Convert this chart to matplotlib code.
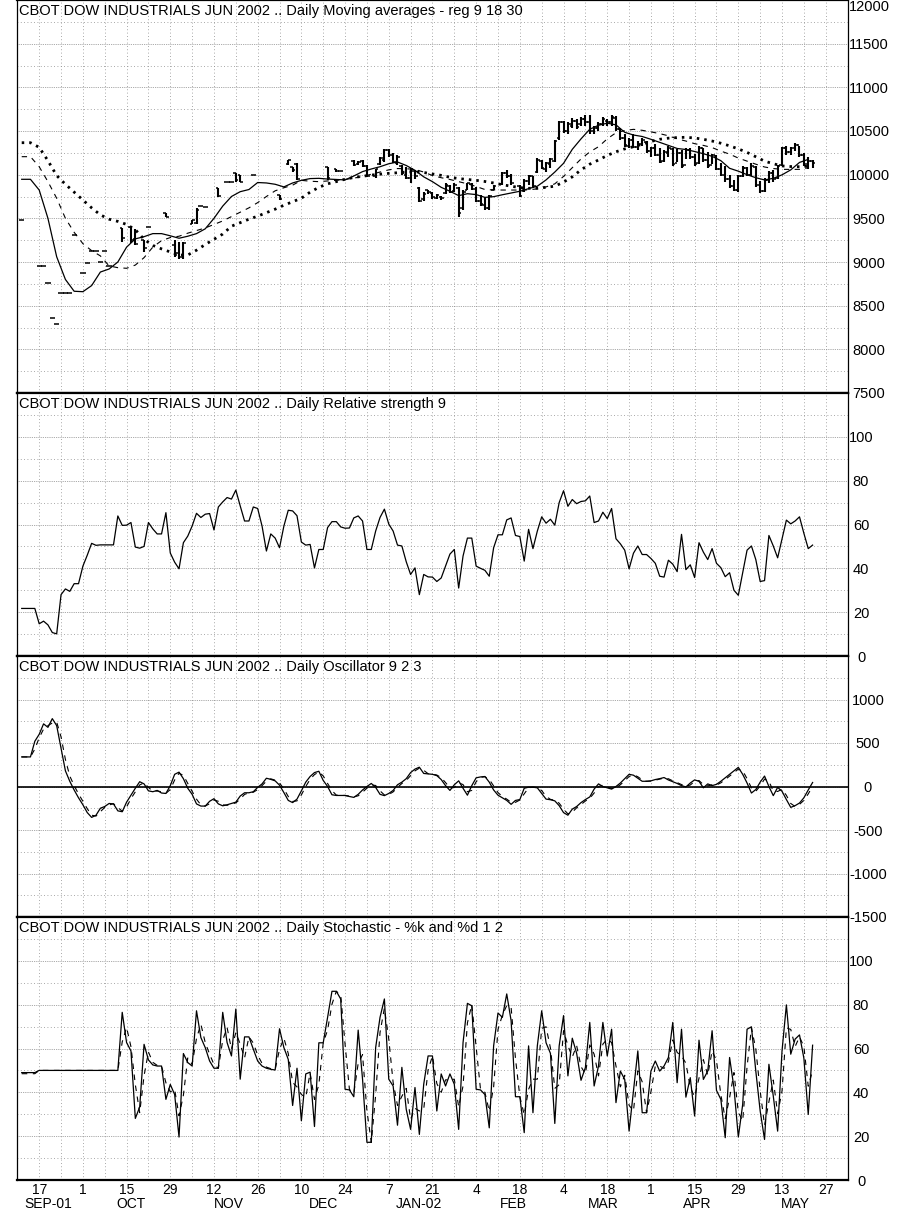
import numpy as np
import pandas as pd
import matplotlib
matplotlib.use("Agg")
import matplotlib.pyplot as plt

# ---- data (one value per trading session, session 0 = Tue 11 Sep 2001) ----
# price bars: high, low, open, close (None = no bar that day)
bar_high = [9485, None, None, None, 8955, 8955, 8756, 8362, 8290, 8650,
            8650, 8645, 9309, None, 8878, 8985, 9126, 9126, 9004, 9126,
            8958, None, None, 9390, None, 9400, 9380, None, 9250, 9405,
            None, None, None, 9560, None, 9250, 9230, 9230, None, 9480,
            9620, 9640, 9630, None, None, 9850, None, 9920, 9920, 10020,
            10000, None, None, 9996, None, None, None, None, None, 9770,
            None, 10170, 10090, 10130, None, None, None, None, None, None,
            10090, None, 10065, 10040, None, None, 10170, 10160, 10170, 10110,
            None, 10070, 10200, 10290, 10290, 10250, 10230, 10110, 10090, 10080,
            10050, 9860, 9800, 9820, 9800, 9780, 9760, 9900, 9880, 9900,
            9860, 9820, 9910, 9900, 9860, 9770, 9740, 9770, 9880, None,
            10030, 10050, 10010, None, 9880, 9950, 10000, 9990, 10190, 10170,
            10150, 10190, 10400, 10610, 10620, 10600, 10650, 10640, 10660, 10680,
            10680, 10560, 10600, 10660, 10640, 10680, 10670, 10540, 10470, 10420,
            10460, 10380, 10420, 10380, 10320, 10350, 10300, 10280, 10330, 10300,
            10290, 10280, 10300, 10310, 10240, 10330, 10310, 10260, 10240, 10220,
            10130, 10100, 10000, 9940, 10000, 10100, 10090, 10130, 10100, 9930,
            9960, 10040, 10050, 10110, 10320, 10330, 10320, 10360, 10330, 10250,
            10200, 10170]
bar_low = [9485, None, None, None, 8955, 8955, 8756, 8362, 8290, 8650,
           8650, 8645, 9309, None, 8878, 8985, 9126, 9126, 9004, 9126,
           8958, None, None, 9230, None, 9220, 9200, None, 9110, 9405,
           None, None, None, 9515, None, 9060, 9040, 9030, None, 9435,
           9435, 9640, 9630, None, None, 9745, None, 9920, 9920, 9920,
           9920, None, None, 9996, None, None, None, None, None, 9710,
           None, 10110, 10035, 9940, None, None, None, None, None, None,
           9940, None, 10030, 10040, None, None, 10100, 10110, 10090, 9970,
           None, 9960, 10110, 10150, 10200, 10130, 10110, 10000, 9950, 9900,
           9950, 9690, 9700, 9780, 9720, 9720, 9710, 9780, 9790, 9800,
           9520, 9600, 9820, 9820, 9690, 9640, 9600, 9600, 9820, None,
           9880, 9960, 9880, None, 9745, 9800, 9880, 9850, 10020, 10060,
           10030, 10080, 10150, 10400, 10480, 10460, 10540, 10520, 10560, 10560,
           10470, 10470, 10500, 10560, 10560, 10560, 10500, 10400, 10320, 10300,
           10300, 10280, 10330, 10250, 10200, 10210, 10130, 10150, 10200, 10100,
           10150, 10080, 10180, 10180, 10100, 10120, 10150, 10080, 10120, 10050,
           9980, 9920, 9850, 9810, 9800, 9970, 9990, 9990, 9860, 9790,
           9800, 9900, 9920, 9950, 10100, 10230, 10230, 10270, 10200, 10100,
           10070, 10080]
bar_open = [9485, None, None, None, 8955, 8955, 8756, 8362, 8290, 8650,
            8650, 8645, 9309, None, 8878, 8985, 9126, 9126, 9004, 9126,
            8958, None, None, 9390, None, 9400, 9260, None, 9250, 9405,
            None, None, None, 9560, None, 9200, 9100, 9080, None, 9440,
            9450, 9640, 9630, None, None, 9850, None, 9920, 9920, 10020,
            10000, None, None, 9996, None, None, None, None, None, 9770,
            None, 10120, 10090, 10120, None, None, None, None, None, None,
            10090, None, 10065, 10040, None, None, 10160, 10120, 10160, 10100,
            None, 9980, 10120, 10170, 10280, 10230, 10130, 10100, 10000, 9960,
            10040, 9850, 9720, 9820, 9790, 9730, 9750, 9790, 9870, 9810,
            9850, 9620, 9830, 9890, 9840, 9700, 9650, 9620, 9830, None,
            9890, 10020, 9990, None, 9870, 9810, 9930, 9980, 10030, 10160,
            10070, 10120, 10160, 10420, 10600, 10500, 10560, 10610, 10580, 10640,
            10600, 10500, 10540, 10580, 10620, 10600, 10650, 10520, 10420, 10330,
            10400, 10320, 10350, 10370, 10270, 10300, 10230, 10160, 10250, 10290,
            10130, 10250, 10110, 10280, 10200, 10130, 10300, 10170, 10110, 10210,
            10070, 10000, 9950, 9870, 9830, 9980, 10080, 10000, 10090, 9880,
            9810, 9940, 10020, 9960, 10110, 10300, 10260, 10300, 10340, 10220,
            10120, 10160]
bar_close = [9485, None, None, None, 8955, 8955, 8756, 8362, 8290, 8650,
             8650, 8645, 9309, None, 8878, 8985, 9126, 9126, 9004, 9126,
             8958, None, None, 9280, None, 9250, 9210, None, 9160, 9405,
             None, None, None, 9515, None, 9080, 9060, 9220, None, 9480,
             9600, 9640, 9630, None, None, 9760, None, 9920, 9920, 9940,
             9920, None, None, 9996, None, None, None, None, None, 9720,
             None, 10170, 10050, 9950, None, None, None, None, None, None,
             9960, None, 10040, 10040, None, None, 10110, 10150, 10100, 9990,
             None, 10060, 10190, 10280, 10220, 10140, 10200, 10020, 9960, 10060,
             9980, 9700, 9780, 9800, 9740, 9770, 9730, 9880, 9800, 9880,
             9560, 9800, 9900, 9840, 9700, 9660, 9620, 9760, 9870, None,
             10020, 9980, 9900, None, 9760, 9930, 9980, 9870, 10170, 10080,
             10130, 10180, 10380, 10600, 10500, 10580, 10620, 10550, 10640, 10600,
             10500, 10540, 10580, 10640, 10600, 10660, 10520, 10420, 10340, 10400,
             10320, 10350, 10400, 10270, 10300, 10230, 10150, 10260, 10300, 10120,
             10250, 10100, 10280, 10200, 10120, 10300, 10170, 10100, 10220, 10070,
             10000, 9950, 9870, 9830, 9980, 10080, 10000, 10100, 9880, 9810,
             9940, 10020, 9950, 10100, 10300, 10260, 10300, 10340, 10220, 10120,
             10160, 10130]

# moving averages, read every second session
ma9 = [9947, 9947, 9824, 9500, 9060, 8800, 8665, 8660, 8730, 8885,
       8920, 9000, 9170, 9265, 9290, 9325, 9325, 9300, 9272, 9295,
       9325, 9380, 9500, 9640, 9750, 9805, 9830, 9910, 9905, 9890,
       9860, 9905, 9935, 9955, 9958, 9950, 9945, 9940, 9985, 10035,
       10065, 10091, 10125, 10145, 10105, 10050, 9975, 9920, 9855, 9810,
       9760, 9782, 9772, 9740, 9748, 9770, 9790, 9810, 9840, 9868,
       9940, 10030, 10130, 10290, 10410, 10520, 10565, 10590, 10570, 10485,
       10454, 10437, 10405, 10370, 10335, 10300, 10288, 10265, 10240, 10210,
       10160, 10073, 10040, 10000, 9965, 9940, 9958, 9998, 10055, 10140,
       10175]
ma18 = [10206, 10206, 10091, 9920, 9730, 9500, 9340, 9210, 9130, 9070,
        8955, 8935, 8928, 8965, 9050, 9170, 9245, 9280, 9295, 9330,
        9360, 9390, 9430, 9470, 9520, 9570, 9620, 9680, 9750, 9815,
        9850, 9880, 9935, 9925, 9920, 9928, 9935, 9945, 9960, 9980,
        10005, 10030, 10055, 10070, 10068, 10060, 10030, 9990, 9965, 9945,
        9920, 9895, 9865, 9830, 9825, 9824, 9824, 9824, 9826, 9838,
        9860, 9895, 9980, 10080, 10180, 10260, 10320, 10410, 10480, 10505,
        10519, 10508, 10490, 10470, 10445, 10410, 10385, 10355, 10335, 10310,
        10270, 10235, 10190, 10155, 10120, 10088, 10070, 10061, 10060, 10061,
        10078]
ma30 = [10366, 10366, 10313, 10160, 9990, 9890, 9800, 9710, 9620, 9540,
        9490, 9465, 9430, 9370, 9260, 9190, 9150, 9115, 9080, 9080,
        9135, 9200, 9260, 9320, 9410, 9450, 9490, 9525, 9565, 9605,
        9650, 9690, 9730, 9800, 9855, 9895, 9920, 9948, 9968, 9982,
        9995, 10006, 10015, 10022, 10030, 10034, 10025, 10008, 9992, 9970,
        9955, 9945, 9935, 9922, 9905, 9885, 9868, 9852, 9844, 9844,
        9855, 9868, 9915, 9975, 10055, 10120, 10168, 10220, 10262, 10295,
        10320, 10348, 10380, 10405, 10418, 10425, 10428, 10420, 10405, 10385,
        10360, 10330, 10295, 10255, 10205, 10155, 10125, 10100, 10093, 10091,
        10097]

rsi = [21.7, 21.7, 21.7, 21.7, 14.7, 15.9, 14.2, 10.7, 10.1, 28,
       30.6, 29.5, 33, 33, 41, 46, 51.4, 50.5, 50.7, 50.7,
       50.7, 50.7, 63.9, 59.6, 59.7, 60.9, 49.7, 49.2, 50, 60.9,
       58, 55.7, 55.7, 65.4, 47, 42.8, 39.8, 51.7, 54.7, 59.3,
       65.1, 63.2, 64.7, 65, 57.5, 68, 70.3, 72.3, 71.6, 75.7,
       68.5, 61.6, 61.6, 68, 67.3, 59.3, 47.9, 55.7, 53.8, 49.4,
       59.3, 66.5, 66.2, 64, 52, 50.6, 50.9, 40.2, 48.6, 48.6,
       58.6, 61.3, 61.3, 58.9, 58.3, 58.4, 63, 63.9, 61.6, 48.6,
       48.6, 57, 63.2, 67, 60.2, 57, 50.6, 50.2, 43, 37.2,
       40.2, 28, 37.2, 36.1, 36, 34, 35.6, 41, 46.5, 48.6,
       31, 45.6, 53.8, 53.8, 41, 40, 39.1, 36.4, 49.4, 55.3,
       55.3, 62.1, 63, 55, 54.5, 43.3, 57.8, 49, 57, 63.5,
       60.6, 62.4, 59.7, 70, 75.4, 68.3, 71.4, 69.5, 70.5, 70.8,
       73, 60.9, 61.6, 65.6, 62.7, 67.3, 53.5, 51.2, 48.3, 39.8,
       46.9, 50.2, 46.3, 46.3, 44.5, 42.3, 36.4, 36, 43.7, 41.9,
       38.5, 55.5, 39.4, 41.6, 35.8, 51.7, 47.4, 44, 49, 42.3,
       40.3, 36.2, 38, 30, 27.7, 38, 48.3, 50.2, 44, 34,
       34.4, 55, 50.2, 44.8, 53.5, 62, 60.3, 61.6, 63.5, 56,
       49, 50.6]

osc = [340, 340, 340, 520, 600, 720, 680, 780, 700, 440,
       180, 60, -40, -130, -210, -300, -355, -330, -250, -230,
       -195, -200, -280, -290, -180, -100, -20, 55, 30, -50,
       -60, -45, -75, -80, 10, 140, 165, 90, -20, -90,
       -200, -225, -225, -170, -140, -200, -222, -210, -195, -180,
       -110, -72, -72, -60, -10, 30, 95, 82, 65, 15,
       -70, -160, -185, -145, -50, 50, 115, 160, 175, 70,
       0, -95, -103, -103, -103, -115, -125, -90, -40, 0,
       35, -10, -90, -105, -80, -45, 20, 50, 90, 160,
       200, 222, 150, 145, 140, 125, 80, 10, -45, 20,
       65, -20, -100, 10, 100, 110, 115, 50, -40, -100,
       -130, -160, -205, -160, -150, -20, -8, -8, -15, -80,
       -145, -152, -165, -220, -300, -330, -260, -230, -185, -150,
       -120, -30, 30, 0, -15, -30, 0, 40, 90, 140,
       130, 95, 60, 60, 65, 80, 90, 103, 75, 55,
       35, 10, -5, 40, 76, 60, -15, 30, 10, 25,
       60, 100, 140, 180, 220, 140, 40, -75, -35, 50,
       120, 0, -105, -10, -55, -150, -240, -220, -190, -130,
       -40, 46]
osc_sig = [340, 340, 340, 430, 560, 660, 700, 730, 740, 570,
           310, 120, 10, -85, -170, -255, -330, -340, -290, -240,
           -212, -198, -240, -285, -235, -140, -60, 18, 42, -10,
           -55, -52, -60, -78, -35, 75, 152, 128, 35, -55,
           -145, -212, -225, -198, -155, -170, -211, -216, -202, -188,
           -145, -91, -72, -66, -35, 10, 62, 88, 73, 40,
           -27, -115, -172, -165, -97, 0, 82, 137, 167, 122,
           35, -47, -99, -103, -103, -109, -120, -107, -65, -20,
           17, 12, -50, -97, -92, -62, -12, 35, 70, 125,
           180, 211, 186, 147, 142, 132, 102, 45, -17, -12,
           42, 22, -60, -45, 55, 105, 112, 82, 5, -70,
           -115, -145, -182, -182, -155, -85, -14, -8, -12, -47,
           -112, -148, -158, -192, -260, -315, -295, -245, -207, -167,
           -135, -75, 0, 15, -7, -22, -15, 20, 65, 115,
           135, 112, 77, 60, 62, 72, 85, 96, 89, 65,
           45, 22, 2, 17, 58, 68, 22, 7, 20, 17,
           42, 80, 120, 160, 200, 180, 90, -17, -55, 7,
           85, 60, -52, -57, -32, -102, -195, -230, -205, -160,
           -85, 3]

stoch_k = [49, 49, 49, 49, 50, 50, 50, 50, 50, 50,
           50, 50, 50, 50, 50, 50, 50, 50, 50, 50,
           50, 50, 50, 76.5, 62.7, 58.9, 28.1, 33.3, 61.9, 54.8,
           52.5, 52, 52, 36.8, 43.6, 39, 19.6, 57.7, 53.6, 52,
           77.2, 65, 60.4, 54.3, 51, 51, 76.5, 62.7, 56.6, 78,
           46, 65.3, 65.3, 59.7, 54.3, 52, 51, 50.5, 50.2, 69,
           60.4, 55, 34, 51, 27, 48.4, 49.2, 24.4, 62.6, 62.6,
           74.2, 86.1, 86.1, 82.6, 41.4, 41.1, 38, 68.4, 46, 17.2,
           17.2, 60.4, 74.2, 82.6, 46, 42.9, 25, 51.4, 32.2, 23.1,
           42.2, 20.8, 43.7, 56.6, 56.6, 31.5, 48.4, 42.9, 48.4, 43.7,
           23.1, 62.7, 80.6, 79.5, 41.4, 41.1, 39, 23.8, 61.2, 76.2,
           74.2, 84.9, 72.7, 38, 38, 21.6, 61.2, 30.7, 61.2, 77.2,
           62.6, 57.8, 25.8, 61.2, 75, 47.5, 64.7, 57.8, 45.5, 51.3,
           71.9, 42.9, 52, 71.9, 56.6, 68.8, 35.3, 49.7, 45.9, 22.3,
           40.6, 58.9, 30.7, 30.7, 49.7, 54.3, 49.7, 52, 55.9, 71.9,
           44.4, 68.8, 37.8, 46.7, 29.2, 63.8, 45.9, 49.7, 68.1, 40.9,
           36.8, 19.3, 55.9, 42.1, 19.6, 34.5, 68.8, 69.9, 49.7, 31.5,
           18.5, 52.8, 38.3, 22.3, 58.9, 79.9, 57.4, 64.3, 66.2, 55.6,
           29.9, 61.5]
stoch_d = [48.5, 48.5, 48.5, 48.5, 50, 50, 50, 50, 50, 50,
           50, 50, 50, 50, 50, 50, 50, 50, 50, 50,
           50, 50, 50, 63, 69.6, 60.8, 43.5, 30.7, 47.6, 58.4,
           53.7, 52.3, 52, 44.4, 40.2, 41.3, 29.3, 38.7, 55.7, 52.8,
           64.6, 71.1, 62.7, 57.4, 52.7, 51, 63.8, 69.6, 59.7, 67.3,
           62, 55.7, 65.3, 62.5, 57, 53.2, 51.5, 50.8, 50.4, 59.6,
           64.7, 57.7, 44.5, 42.5, 39, 37.7, 48.8, 36.8, 43.5, 62.6,
           68.4, 80.2, 86.1, 84.4, 62, 41.3, 39.6, 53.2, 57.2, 31.6,
           17.2, 38.8, 67.3, 78.4, 64.3, 44.5, 34, 38.2, 41.8, 27.7,
           32.7, 31.5, 32.3, 50.2, 56.6, 44, 40, 45.7, 45.7, 46,
           33.4, 42.9, 71.7, 80, 60.5, 41.3, 40, 31.4, 42.5, 68.7,
           75.2, 79.6, 78.8, 55.4, 38, 29.8, 41.4, 46, 46, 69.2,
           69.9, 60.2, 41.8, 43.5, 68.1, 61.3, 56.1, 61.3, 51.7, 48.4,
           61.6, 57.4, 47.5, 62, 64.3, 62.7, 52, 42.5, 47.8, 34.1,
           31.5, 49.8, 44.8, 30.7, 40.2, 52, 52, 50.9, 54, 63.9,
           58.2, 56.6, 53.3, 42.3, 38, 46.5, 54.9, 47.8, 58.9, 54.5,
           38.9, 28, 37.6, 49, 30.9, 27, 51.7, 69.4, 59.8, 40.6,
           25, 35.7, 45.6, 30.3, 40.6, 69.4, 68.7, 60.9, 65.3, 60.9,
           42.8, 50]

day_labels = ["17", "1", "15", "29", "12", "26", "10", "24", "7", "21",
              "4", "18", "4", "18", "1", "15", "29", "13", "27"]
month_labels = ["SEP-01", "OCT", "NOV", "DEC", "JAN-02", "FEB", "MAR", "APR", "MAY"]
titles = ["CBOT DOW INDUSTRIALS JUN 2002 .. Daily Moving averages - reg 9 18 30",
          "CBOT DOW INDUSTRIALS JUN 2002 .. Daily Relative strength 9",
          "CBOT DOW INDUSTRIALS JUN 2002 .. Daily Oscillator 9 2 3",
          "CBOT DOW INDUSTRIALS JUN 2002 .. Daily Stochastic - %k and %d 1 2"]

# ---- figure ----
plt.rcParams["font.family"] = ["Liberation Sans", "DejaVu Sans"]
plt.rcParams["axes.unicode_minus"] = False
W, H = 911, 1214
fig = plt.figure(figsize=(W / 100, H / 100), dpi=100)

# session axis: 17 Sep 2001 = 0, sessions are weekdays
START = 4   # sessions before 17 Sep
XMIN, XMAX = -5.08, 185.1

def panel(top, bottom):
    return fig.add_axes([17 / W, 1 - bottom / H, 831 / W, (bottom - top) / H])

ax1 = panel(0, 393)
ax2 = panel(393, 656)
ax3 = panel(656, 917)
ax4 = panel(917, 1180)
axes = [ax1, ax2, ax3, ax4]

def days(series, step=1):
    return np.arange(len(series)) * step - START

major_dots = (0, (1, 1.2))
minor_dots = (0, (1, 3))
gcol = "#8c8c8c"

ylims = [(7500, 12000), (0, 120), (-1500, 1500), (0, 120)]
ymaj = [500, 20, 500, 20]
label_top = [11500, 100, 1000, 100]
label_center = [21, 13, 20, 13]   # px right of the frame

for ax, yl, step, top, lc, title in zip(axes, ylims, ymaj, label_top, label_center, titles):
    ax.set_xlim(XMIN, XMAX)
    ax.set_ylim(*yl)
    ax.set_xticks(np.arange(0, 181, 10))
    ax.set_xticks(np.arange(-5, 186, 5), minor=True)
    ax.set_yticks(np.arange(yl[0], top + 1, step))
    ax.set_yticks(np.arange(yl[0], yl[1], step / 2), minor=True)
    ax.grid(axis="x", which="both", color=gcol, lw=0.6, ls=minor_dots)
    ax.grid(axis="y", which="major", color=gcol, lw=0.6, ls=major_dots)
    ax.grid(axis="y", which="minor", color=gcol, lw=0.6, ls=minor_dots)
    ax.set_axisbelow(True)
    ax.yaxis.tick_right()
    ax.tick_params(axis="both", which="both", length=0, labelbottom=False)
    ax.tick_params(axis="y", labelsize=10.5, pad=lc * 0.72)
    for lab in ax.get_yticklabels():
        lab.set_horizontalalignment("center")
    for side in ("top", "bottom"):
        ax.spines[side].set_linewidth(1.6)
    for side in ("left", "right"):
        ax.spines[side].set_linewidth(0.9)
    ax.annotate(title, (0, 1), xycoords="axes fraction", xytext=(1.6, -3),
                textcoords="offset points", fontsize=10.5, ha="left", va="top")

# the top price label sits right under the upper edge
ax1.annotate("12000", (1, 12000), xycoords=("axes fraction", "data"),
             xytext=(21 * 0.72, 0), textcoords="offset points",
             ha="center", va="top", fontsize=10.5)

# price bars
hi = np.array(bar_high, dtype=float)
lo = np.array(bar_low, dtype=float)
op = np.array(bar_open, dtype=float)
cl = np.array(bar_close, dtype=float)
bx = days(bar_high)
ok = ~np.isnan(hi)
tick = 0.6
ax1.vlines(bx[ok], lo[ok], hi[ok], color="black", lw=1.5)
ax1.hlines(op[ok], bx[ok] - tick, bx[ok], color="black", lw=1.1)
ax1.hlines(cl[ok], bx[ok], bx[ok] + tick, color="black", lw=1.1)

ax1.plot(days(ma9, 2), ma9, color="black", lw=0.9)
ax1.plot(days(ma18, 2), ma18, color="black", lw=0.8, ls=(0, (4.8, 4.8)))
ax1.plot(days(ma30, 2), ma30, color="black", lw=2.0, ls=(0, (0.9, 1.8)))

ax2.plot(days(rsi), rsi, color="black", lw=0.9)

ax3.axhline(0, color="black", lw=1.2)
ax3.plot(days(osc), osc, color="black", lw=0.9)
ax3.plot(days(osc_sig), osc_sig, color="black", lw=0.8, ls=(0, (5, 5)))

ax4.plot(days(stoch_k), stoch_k, color="black", lw=0.9)
ax4.plot(days(stoch_d), stoch_d, color="black", lw=0.8, ls=(0, (5, 5)))

# date labels under the last panel
narrow = ["Liberation Sans Narrow", "Liberation Sans", "DejaVu Sans"]
for pos, lab in zip(np.arange(0, 181, 10), day_labels):
    ax4.annotate(lab, (pos, 0), xycoords=("data", "axes fraction"),
                 xytext=(0, -2), textcoords="offset points",
                 ha="center", va="top", fontsize=10, family=narrow)

dates = pd.bdate_range("2001-09-10", "2002-06-07")
pos = np.arange(len(dates)) - 5
inside = (pos >= XMIN) & (pos <= XMAX)
months = pd.Series(pos[inside]).groupby(dates[inside].to_period("M")).agg(["min", "max"])
for (mn, mx), lab in zip(months.values, month_labels):
    ax4.annotate(lab, ((mn + mx) / 2, 0), xycoords=("data", "axes fraction"),
                 xytext=(0, -12), textcoords="offset points",
                 ha="center", va="top", fontsize=10, family=narrow)

fig.savefig("out.png", dpi=100)
